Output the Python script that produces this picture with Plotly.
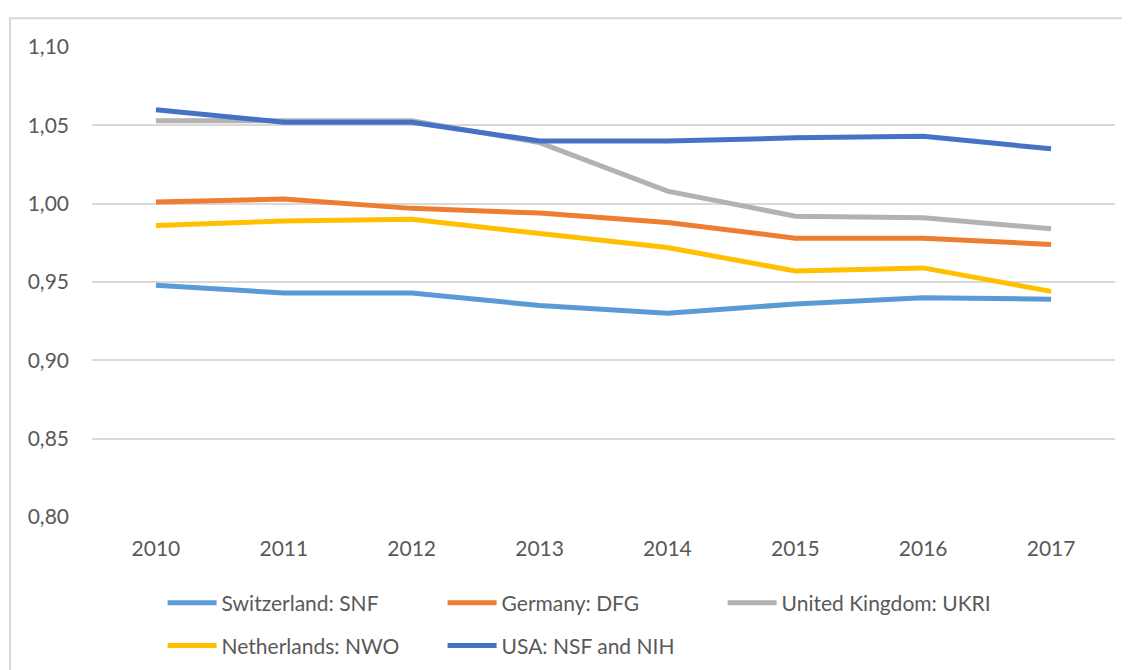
import plotly.graph_objects as go

years = [2010, 2011, 2012, 2013, 2014, 2015, 2016, 2017]

snf = [0.948, 0.943, 0.943, 0.935, 0.930, 0.936, 0.940, 0.939]
dfg = [1.001, 1.003, 0.997, 0.994, 0.988, 0.978, 0.978, 0.974]
ukri = [1.053, 1.053, 1.053, 1.039, 1.008, 0.992, 0.991, 0.984]
nwo = [0.986, 0.989, 0.990, 0.981, 0.972, 0.957, 0.959, 0.944]
usa = [1.060, 1.052, 1.052, 1.040, 1.040, 1.042, 1.043, 1.035]

names = ["Switzerland: SNF", "Germany: DFG", "United Kingdom: UKRI",
         "Netherlands: NWO", "USA: NSF and NIH"]
colors = ["#5B9BD5", "#ED7D31", "#B2B2B2", "#FFC000", "#4472C4"]
legends = ["legend", "legend", "legend", "legend2", "legend2"]

font = "Lato, Open Sans, sans-serif"
txt = "#595959"

fig = go.Figure()
for name, vals, col, lg in zip(names, [snf, dfg, ukri, nwo, usa], colors, legends):
    fig.add_trace(go.Scatter(x=years, y=vals, name=name, mode="lines",
                             line=dict(color=col, width=5), legend=lg))

# page has an 8px body margin, so margins are pulled in by 8
leg = dict(orientation="h", x=0.069, xanchor="left", yanchor="middle",
           entrywidth=216, itemwidth=49, font=dict(size=21, color=txt),
           bgcolor="rgba(0,0,0,0)")
fig.update_layout(
    width=1130, height=670,
    margin=dict(l=84, r=23, t=39, b=157),
    paper_bgcolor="white", plot_bgcolor="white",
    separators=",.",
    font=dict(family=font, size=21, color=txt),
    showlegend=True,
    legend=dict(leg, y=-0.183),
    legend2=dict(leg, y=-0.274),
    shapes=[dict(type="rect", xref="paper", yref="paper",
                 x0=-0.0802, y0=-0.5, x1=1.2, y1=1.061,
                 line=dict(color="#D9D9D9", width=2), layer="below")],
)

fig.update_xaxes(range=[2009.5, 2017.5], tickvals=years, showgrid=False,
                 zeroline=False, showline=False, ticks="", ticklabelstandoff=17,
                 tickfont=dict(size=21, color=txt))
fig.update_yaxes(range=[0.80, 1.10], dtick=0.05, tickformat=".2f",
                 showgrid=True, gridcolor="#D9D9D9", gridwidth=1.5,
                 zeroline=False, showline=False, ticks="", ticklabelstandoff=22,
                 tickfont=dict(size=21, color=txt))

fig.write_html("out.html")
